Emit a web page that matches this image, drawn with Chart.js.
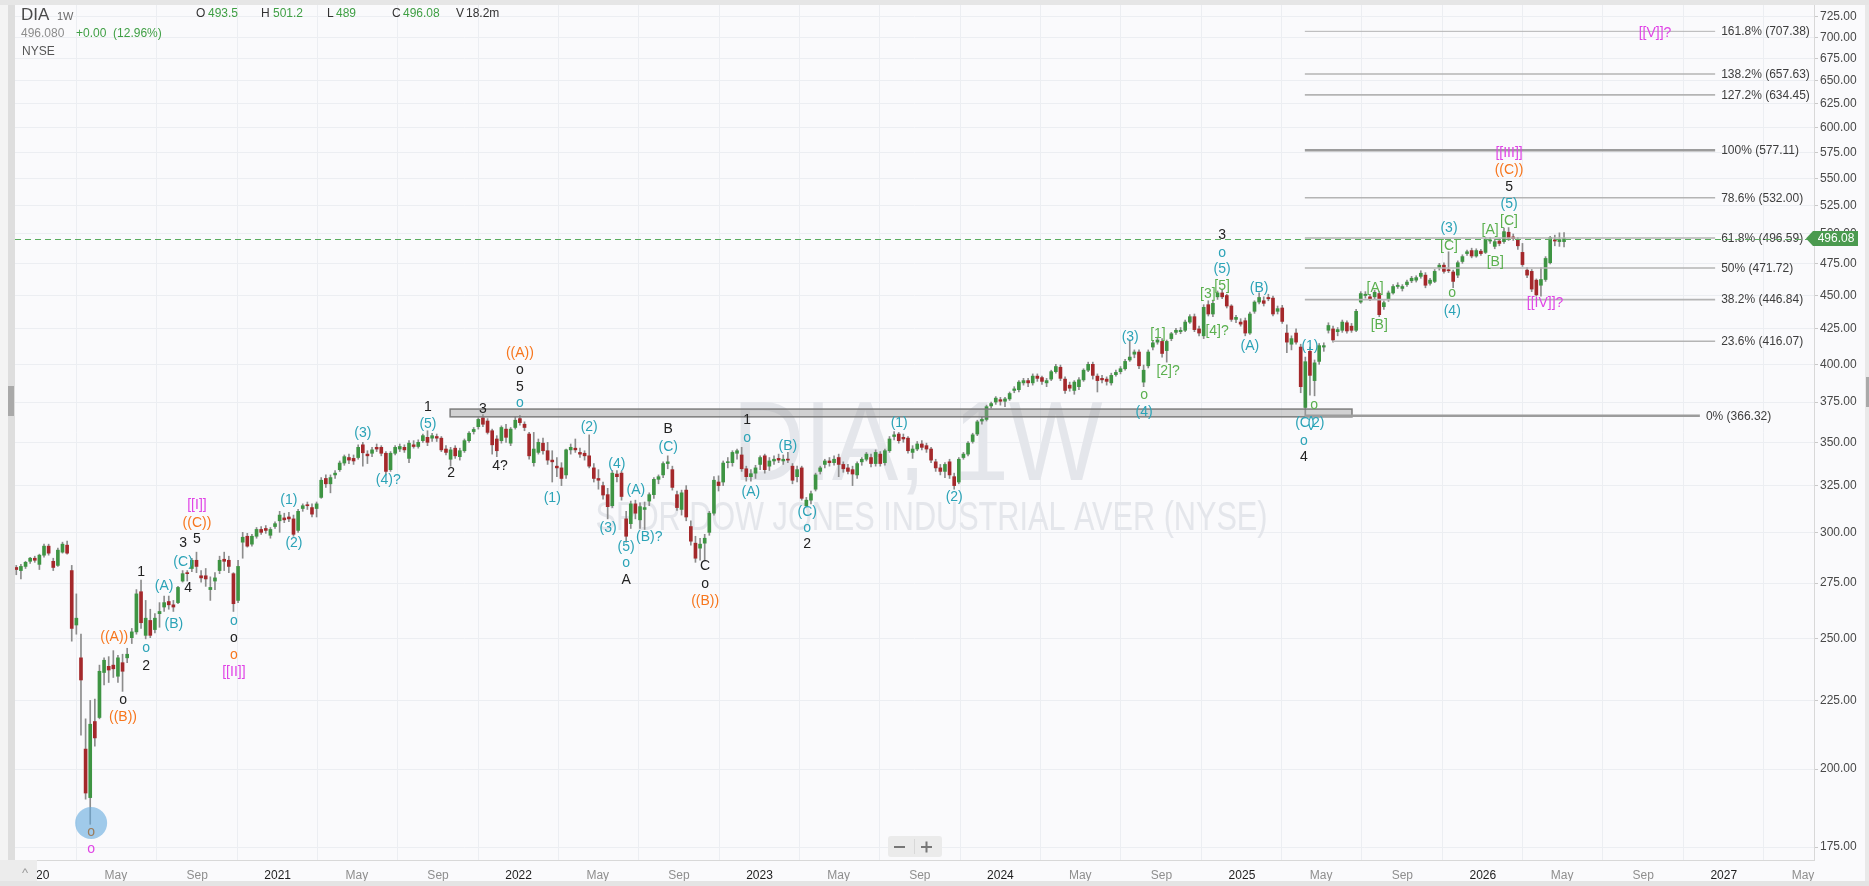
<!DOCTYPE html>
<html>
<head>
<meta charset="utf-8">
<title>DIA 1W</title>
<script src="https://cdn.jsdelivr.net/npm/chart.js"></script>
<style>
  html, body { margin: 0; padding: 0; background: #fafafc; overflow: hidden; }
  #wrap { width: 1869px; height: 886px; }
</style>
</head>
<body>
<div id="wrap"><canvas id="myChart" width="1869" height="886"></canvas></div>
<script>
// weekly bars, bar 0 = week of 2019-12-02
var firstBar = Date.UTC(2019, 11, 2);

var opens = [
  282.5, 281, 283, 285.5, 287, 284, 288.5, 293, 285.5, 283.5,
  290, 293.5, 281, 256, 242, 207, 190.5, 217, 218.5, 236,
  238.5, 239, 234.5, 240, 242, 250.5, 253, 271, 251.5, 258,
  254, 261, 264, 266.5, 265, 266, 276, 280, 282, 286,
  278.5, 278.5, 272, 276, 281, 286.5, 286, 279.5, 267, 295,
  298, 294, 298, 301.5, 302, 298.5, 303, 306, 307.5, 308,
  307, 301, 312.5, 314.5, 313, 312.5, 318.5, 329, 326, 331,
  334, 337.8, 341, 340.5, 341, 348.5, 343, 343.5, 347, 347,
  343.5, 334, 343.5, 346, 347, 340.5, 348.5, 347.5, 351, 353,
  352.5, 353.5, 352.5, 346, 340, 346.5, 341.5, 345, 351, 356.5,
  359.5, 365, 363, 357, 352, 351, 358, 349.5, 359, 364.5,
  361, 355, 338, 344, 349.5, 345, 339.5, 336, 335, 331,
  345.5, 346.5, 344, 343.5, 342, 335, 329, 325, 320, 314,
  331.5, 332, 307, 304.5, 315, 306.5, 312, 316.5, 320, 328.5,
  331, 337.5, 334, 320, 312, 322.5, 303, 294.5, 292, 294.5,
  300, 310, 327, 327, 338, 338, 343.5, 342.5, 334.5, 330,
  332, 337, 342, 336, 339, 340.5, 339, 340, 336, 330,
  335, 314, 317, 323, 333, 337, 339, 338, 341, 337,
  335, 334, 331, 338.5, 340, 341, 337.5, 343, 338, 345,
  353.5, 355, 353, 352.5, 344, 346, 349, 348, 346, 338.5,
  335, 333, 338.5, 330, 327, 341, 343, 350.5, 355, 363,
  364, 372.5, 375, 376.5, 375.5, 377, 382.5, 383, 387.5, 389,
  387.5, 392, 391, 387.5, 390, 395, 398, 390, 386, 382.5,
  385, 389.5, 396, 400, 392, 390.5, 390, 387.5, 393, 395,
  397, 403, 407, 408.5, 388, 399, 412, 415.5, 416, 409.5,
  418, 422.5, 423, 424, 430, 434, 425, 420, 443, 436,
  449, 452, 450, 442, 432, 430, 431, 422, 438, 445,
  446, 448.5, 448, 438, 440.5, 422, 414, 422, 412, 371.5,
  409, 389, 402, 412, 424, 425, 423, 424, 429.5, 427,
  424, 445, 450, 449, 449, 451.5, 441.5, 447, 452, 457,
  455.5, 458.5, 461.5, 462, 465, 466, 459.5, 461, 472, 474,
  470, 468.5, 466, 477, 483.5, 486, 481.5, 485.5, 484.5, 494,
  489.5, 494, 493.5, 501.5, 497.5, 495, 484.5, 470, 469, 462,
  458, 462.5, 476, 495, 493.5, 493.5
];
var highs = [
  283.5, 284, 285.5, 287.5, 288, 289, 294, 294, 287, 292,
  295, 295.5, 283.5, 270, 252, 218, 225, 225.5, 239, 242,
  242.5, 245, 243, 243.5, 246, 254.5, 272, 276.5, 267, 263,
  261, 266, 269, 269, 267, 273.5, 281, 281, 287, 290,
  281, 282, 278, 280, 288, 290, 288, 280, 286, 300,
  299.5, 299, 302.5, 303, 303.5, 302.5, 305.5, 311, 310, 310.5,
  309, 312, 315, 316, 315, 316, 329.5, 331, 331, 333.5,
  339, 342.5, 343, 342.5, 348.5, 350, 345, 347, 349, 348,
  344.5, 344.5, 348, 349, 348.5, 351, 351, 351.5, 355, 357,
  355.5, 355, 353.5, 348, 347, 348, 346.5, 352, 356.5, 359,
  365, 367, 364.5, 358, 354, 360, 361, 359, 365.5, 366.6,
  362.5, 356, 356, 352, 352.5, 350, 345, 341, 338, 346,
  349, 352, 346.5, 345, 354.5, 337.5, 334, 327, 323.5, 333.5,
  333.5, 333, 311, 316.5, 317, 315.5, 316, 321, 329.5, 331,
  338.5, 342, 336, 322, 322.5, 325, 306, 298, 297, 299,
  311, 330, 330.5, 339, 341, 345, 346, 347, 336, 334,
  336.5, 342, 343, 341, 342, 343, 342.5, 344, 337.5, 336,
  336, 318.5, 322, 332, 336, 340, 341, 342, 343, 338.5,
  337, 336, 338.5, 341, 344, 343, 345.5, 344.5, 346, 353.5,
  356.5, 356, 355, 353.5, 348, 350.5, 351, 349.5, 347, 340,
  337, 338, 340, 332, 341, 344, 350.5, 355.5, 363.5, 365.5,
  373, 375, 378.5, 378, 378, 381.5, 385, 389, 390.5, 390.5,
  393.5, 393.5, 392, 390.5, 396, 400, 399.5, 391.5, 388, 389,
  391, 397, 401.5, 401.5, 393.5, 392.5, 391.5, 394, 396, 398.5,
  403.5, 417, 410, 410, 399.5, 410, 416, 419, 418, 417,
  422.5, 425.5, 426, 431.5, 435.5, 436, 427, 443, 446, 446.5,
  453.5, 455, 451, 443, 435, 432.5, 433, 437.5, 446, 452,
  449, 451, 449.5, 442, 442.5, 428, 420, 425, 414, 405,
  412, 403, 414.5, 415, 429.5, 427, 426, 431.5, 431, 429,
  439.5, 453, 453, 451, 454, 453, 446, 453.5, 458.5, 460,
  458.5, 462, 465, 465.5, 469.5, 468, 463.5, 470.5, 475.5, 476,
  485, 470, 477.5, 482.5, 486.5, 488, 487.5, 487, 497, 497,
  495.5, 496, 505, 505.5, 500, 497, 492, 472, 470.5, 463,
  472, 481, 498, 499, 501, 501.2
];
var lows = [
  279, 277, 282, 284.5, 285, 281.5, 287.5, 288.5, 281, 283,
  289.5, 289, 249, 252, 212, 190, 182, 208, 218, 231,
  232, 234, 232, 228.5, 240, 248, 252, 254.5, 250, 250.5,
  252.5, 255, 262, 263, 262, 265.5, 275.5, 276, 280.5, 280,
  275.5, 273.5, 267, 272, 279.5, 281, 280, 262, 266, 287,
  292.5, 293, 297, 299, 299.5, 297, 302, 300, 305, 305.5,
  298, 300, 311, 312, 308, 308, 318, 324, 321, 329,
  333, 336.5, 337.5, 337, 340, 336, 337.5, 341.5, 344.5, 342,
  331, 333, 342.5, 344.5, 344, 338, 346.5, 346.5, 350, 348,
  350.5, 350.5, 344.5, 342.5, 336, 340.5, 339.5, 344, 350, 355,
  358, 359.5, 355, 343, 341.5, 349.5, 350, 348, 358, 360.5,
  357, 340, 336, 343, 343, 337, 327, 330, 325, 329,
  343, 344, 341, 339.5, 335, 327, 323, 317.5, 307, 313,
  327, 317, 295, 302, 307, 302, 301.5, 314, 318, 326,
  329.5, 334.5, 322.5, 311.5, 309, 306, 293.5, 285, 286, 286,
  298.5, 309, 322, 325, 335, 336, 340, 333, 327.5, 327.5,
  329, 334, 332, 333.5, 337, 338, 337, 338, 326, 327,
  317, 313.5, 315, 322, 331.5, 335, 336, 336.5, 330, 332.5,
  331.5, 325, 329, 336.5, 339, 335.5, 336, 336, 336.5, 344,
  351.5, 349.5, 350, 343.5, 340.5, 345, 345.5, 344, 338, 333,
  331, 329.5, 329, 323, 326, 340, 342, 349.5, 354, 361,
  363, 371, 373.5, 373, 372, 376, 381, 381.5, 386, 385,
  386, 388.5, 386.5, 385, 389, 394, 389, 380.5, 382, 380,
  383, 388.5, 395, 390, 381.5, 387.5, 386, 386, 392, 393.5,
  396, 402, 404.5, 397, 385, 397.5, 410, 414, 405, 401.5,
  416.5, 421, 421.5, 423, 429, 423, 420, 418, 434.5, 434,
  447, 447.5, 440.5, 430.5, 429.5, 427, 420, 421, 436.5, 443.5,
  442, 446, 434.5, 436, 429, 408, 410, 414, 381, 366.3,
  379.5, 379, 400, 409, 422, 415.5, 420, 422.5, 422, 422.5,
  423, 444, 448, 446, 447.5, 434, 439.5, 445.5, 451, 455.5,
  453.5, 457, 460, 460.5, 463.5, 456, 458, 460, 470, 467.5,
  468, 456, 464, 475.5, 482, 480, 480.5, 482, 483.5, 492,
  487.5, 490, 492, 494.5, 494.5, 487, 473, 464, 453, 449.5,
  449.5, 461, 475, 490, 489.5, 489
];
var closes = [
  281.5, 283, 285, 287, 286, 288.5, 293, 289.5, 282.5, 291,
  294, 289.5, 254.5, 259, 233, 192, 216, 211, 236.5, 241,
  237, 237.5, 242, 236.5, 243.5, 253, 270, 257, 259, 251.5,
  259, 262, 266, 265, 264, 273, 279.5, 279.5, 286, 283,
  277.5, 277, 273, 277.5, 286, 285.5, 283, 265.5, 283, 297.5,
  293, 298, 301.5, 300, 301, 301.5, 304.5, 309, 306.5, 307,
  299, 311, 314, 314, 309.5, 315, 328, 326, 329.5, 332,
  337.8, 341.5, 339.5, 339, 347, 343.8, 342, 345.5, 346, 343.5,
  333, 343.5, 347, 347.5, 345.5, 349.5, 347.5, 350, 354, 350,
  354, 352.5, 345.5, 344, 345.5, 342, 345, 351, 355.5, 357.8,
  364, 361, 356, 348.5, 345, 359, 353, 358, 363.5, 362,
  359, 342, 346, 350, 345, 339.5, 338.5, 335, 329, 345.5,
  347, 345.5, 343, 342, 336, 329, 328, 319.8, 313.5, 332,
  330, 319, 298, 315, 310, 313.5, 313, 320, 328.5, 330,
  337.5, 338.5, 324, 313, 321, 308, 295.5, 287, 294, 297,
  310, 328, 325, 337.8, 338.5, 344, 345, 334.5, 330, 331.7,
  335, 341, 334, 339, 340, 339.5, 340, 339.5, 328, 334,
  318, 317, 320.5, 331, 335, 339, 338, 340, 337, 334.5,
  333, 331.5, 337.5, 340, 343, 337.5, 344, 337.5, 345, 352,
  354.5, 351, 352, 345, 346, 349, 347, 346, 339.5, 335,
  333, 337, 331, 325, 340, 343, 349.5, 354.5, 362.5, 364,
  372, 374, 377.5, 375.5, 377, 380.5, 383.5, 388, 389, 387.5,
  392, 390.5, 388.5, 389, 395, 398.5, 390.5, 382.5, 384, 388,
  389.5, 396, 400, 392.5, 389, 389.5, 388.5, 392.5, 394.5, 397,
  402, 405, 408.5, 399, 396, 408.5, 415, 417, 407.5, 416,
  421.5, 424, 424, 430, 434, 424.5, 422, 441, 436, 444,
  452, 449, 442, 432, 433.5, 428.5, 422, 436, 445, 448.5,
  444, 447.5, 436, 440, 430.5, 415.5, 418, 415.5, 385, 401.8,
  392.5, 401, 413, 413, 427.5, 417, 424.5, 430, 423.5, 424,
  438, 451.5, 451, 447.5, 452.5, 435.5, 444.5, 452, 457, 458,
  457, 460.5, 463.5, 464, 467.5, 458, 462, 469, 474, 469,
  469.5, 461, 476, 481, 485, 481.5, 486, 483.5, 495.5, 495,
  493.5, 492, 502, 496.5, 496, 490, 474.5, 466, 455, 450.5,
  462.5, 479.5, 497, 494, 495.5, 496.08
];

var lastPrice = 496.08;

var yTicks = [175, 200, 225, 250, 275, 300, 325, 350, 375, 400, 425, 450, 475, 500,
  525, 550, 575, 600, 625, 650, 675, 700, 725];

var xTickDates = ['2020-01-01', '2020-05-01', '2020-09-01', '2021-01-01', '2021-05-01', '2021-09-01',
  '2022-01-01', '2022-05-01', '2022-09-01', '2023-01-01', '2023-05-01', '2023-09-01',
  '2024-01-01', '2024-05-01', '2024-09-01', '2025-01-01', '2025-05-01', '2025-09-01',
  '2026-01-01', '2026-05-01', '2026-09-01', '2027-01-01', '2027-05-01'];
var xTickLabels = ['2020', 'May', 'Sep', '2021', 'May', 'Sep', '2022', 'May', 'Sep',
  '2023', 'May', 'Sep', '2024', 'May', 'Sep', '2025', 'May', 'Sep',
  '2026', 'May', 'Sep', '2027', 'May'];

// fibonacci levels drawn from the 2025 low
var fibNames = ['161.8%', '138.2%', '127.2%', '100%', '78.6%', '61.8%', '50%', '38.2%', '23.6%', '0%'];
var fibPrices = [707.38, 657.63, 634.45, 577.11, 532.00, 496.59, 471.72, 446.84, 416.07, 366.32];

// grey resistance box: [fromBar, toBar, lowPrice, highPrice]
var zoneBox = [93.9, 289.1, 365.6, 370.5];

// wave labels: [bar, price, text, colour key]
var waveLabels = [
  [39.1, 314.4, '[[I]]', 'm'], [39.1, 304.8, '((C))', 'o'], [39.1, 296.6, '5', 'k'],
  [36.1, 294.6, '3', 'k'], [36.1, 285.1, '(C)', 't'], [37.2, 272.8, '4', 'k'],
  [27.0, 280.3, '1', 'k'], [32.0, 273.7, '(A)', 't'], [34.1, 256.4, '(B)', 't'],
  [21.2, 250.8, '((A))', 'o'], [28.1, 246.1, 'o', 't'], [28.1, 238.6, '2', 'k'],
  [23.1, 225.1, 'o', 'k'], [23.1, 218.7, '((B))', 'o'],
  [47.1, 257.7, 'o', 't'], [47.1, 250.3, 'o', 'k'], [47.1, 243.2, 'o', 'o'], [47.1, 236.2, '[[II]]', 'm'],
  [16.2, 179.6, 'o', 'b'], [16.2, 174.5, 'o', 'm'],
  [59.0, 317.1, '(1)', 't'], [60.1, 294.6, '(2)', 't'], [75.0, 355.6, '(3)', 't'], [80.5, 328.1, '(4)?', 't'],
  [89.1, 371.8, '1', 'k'], [89.1, 361.1, '(5)', 't'], [101.0, 370.5, '3', 'k'],
  [94.1, 332.1, '2', 'k'], [104.7, 336.1, '4?', 'k'],
  [109.0, 407.8, '((A))', 'o'], [109.0, 396.1, 'o', 'k'], [109.0, 384.7, '5', 'k'], [109.0, 374.4, 'o', 't'],
  [124.0, 359.2, '(2)', 't'], [116.0, 318.2, '(1)', 't'], [130.0, 337.2, '(4)', 't'],
  [128.1, 302.3, '(3)', 't'], [132.0, 292.6, '(5)', 't'], [132.0, 284.6, 'o', 't'], [132.0, 276.5, 'A', 'k'],
  [134.1, 322.6, '(A)', 't'], [137.0, 297.6, '(B)?', 't'],
  [141.1, 358.0, 'B', 'k'], [141.1, 347.2, '(C)', 't'],
  [149.1, 283.2, 'C', 'k'], [149.1, 274.6, 'o', 'k'], [149.1, 266.7, '((B))', 'o'],
  [158.2, 363.6, '1', 'k'], [158.2, 352.6, 'o', 't'], [159.0, 321.4, '(A)', 't'], [167.0, 347.8, '(B)', 't'],
  [171.2, 310.6, '(C)', 't'], [171.2, 302.3, 'o', 't'], [171.2, 294.1, '2', 'k'],
  [191.1, 361.8, '(1)', 't'], [203.0, 318.7, '(2)', 't'],
  [241.1, 419.2, '(3)', 't'], [244.1, 379.5, 'o', 'g'], [244.1, 368.6, '(4)', 't'],
  [247.1, 421.3, '[1]', 'g'], [249.3, 395.4, '[2]?', 'g'],
  [261.0, 499.2, '3', 'k'], [261.0, 484.0, 'o', 't'], [261.0, 470.9, '(5)', 't'], [261.0, 457.4, '[5]', 'g'],
  [257.9, 451.2, '[3]', 'g'], [259.9, 423.5, '[4]?', 'g'],
  [269.0, 455.9, '(B)', 't'], [267.0, 412.7, '(A)', 't'],
  [280.0, 412.7, '(1)', 't'], [280.9, 373.1, 'o', 'g'], [278.9, 361.8, '(C)', 't'], [281.3, 361.8, '(2)', 't'],
  [278.7, 350.8, 'o', 't'], [278.7, 341.3, '4', 'k'],
  [294.1, 455.9, '[A]', 'g'], [295.0, 427.9, '[B]', 'g'],
  [310.1, 505.2, '(3)', 't'], [310.1, 489.9, '[C]', 'g'], [310.8, 452.0, 'o', 'g'], [310.8, 438.3, '(4)', 't'],
  [319.0, 503.5, '[A]', 'g'], [320.1, 476.6, '[B]', 'g'], [323.1, 511.3, '[C]', 'g'],
  [323.1, 526.4, '(5)', 't'], [323.1, 541.9, '5', 'k'], [323.1, 557.9, '((C))', 'o'], [323.1, 574.3, '[[III]]', 'm'],
  [330.9, 444.3, '[[IV]]?', 'm'], [354.7, 705.4, '[[V]]?', 'm']
];
var circleMark = [16.2, 182.4];

var ff = "'Liberation Sans', Arial, sans-serif";
var upColor = '#3e9443';
var downColor = '#a4282b';
var labelColors = { t: '#2ba3b7', k: '#222222', o: '#f7761d', m: '#e044e6', g: '#5bb04f', b: '#9b7b5b' };

function weekOf(dateStr) {
  var p = dateStr.split('-');
  return (Date.UTC(+p[0], +p[1] - 1, +p[2]) - firstBar) / (7 * 86400000);
}
var xTickPos = xTickDates.map(weekOf);

var wickData = [], bodyData = [], bodyColors = [];
for (var i = 0; i < closes.length; i++) {
  wickData.push({ x: i, y: [lows[i], highs[i]] });
  bodyData.push({ x: i, y: [Math.min(opens[i], closes[i]), Math.max(opens[i], closes[i])] });
  bodyColors.push(closes[i] >= opens[i] ? upColor : downColor);
}

var overlay = {
  id: 'overlay',
  beforeDraw: function (chart) {
    var ctx = chart.ctx;
    ctx.save();
    ctx.fillStyle = '#fafafc';
    ctx.fillRect(0, 0, chart.width, chart.height);
    ctx.restore();
  },
  beforeDatasetsDraw: function (chart) {
    var ctx = chart.ctx, a = chart.chartArea;
    var cx = (a.left + a.right) / 2;
    ctx.save();
    ctx.fillStyle = '#e4e6eb';
    ctx.textAlign = 'center';
    ctx.textBaseline = 'alphabetic';
    ctx.font = '114px ' + ff;
    ctx.fillText('DIA, 1W', cx + 3, 480, 370);
    ctx.font = '40px ' + ff;
    ctx.fillText('SPDR DOW JONES INDUSTRIAL AVER (NYSE)', cx + 17, 530, 672);
    ctx.restore();
  },
  afterDatasetsDraw: function (chart) {
    var ctx = chart.ctx, xs = chart.scales.x, ys = chart.scales.y, a = chart.chartArea;
    ctx.save();

    // box
    var bx1 = xs.getPixelForValue(zoneBox[0]), bx2 = xs.getPixelForValue(zoneBox[1]);
    var by1 = ys.getPixelForValue(zoneBox[3]), by2 = ys.getPixelForValue(zoneBox[2]);
    ctx.fillStyle = 'rgba(160,160,160,0.45)';
    ctx.fillRect(bx1, by1, bx2 - bx1, by2 - by1);
    ctx.strokeStyle = '#7c7c7c';
    ctx.lineWidth = 1.5;
    ctx.strokeRect(bx1, by1, bx2 - bx1, by2 - by1);

    // fib levels
    ctx.font = '12px ' + ff;
    ctx.textBaseline = 'middle';
    ctx.textAlign = 'left';
    for (var f = 0; f < fibPrices.length; f++) {
      var fy = ys.getPixelForValue(fibPrices[f]);
      var last = f === fibPrices.length - 1;
      var fx1 = xs.getPixelForValue(fibNames[f] === '23.6%' ? 285 : 278.9);
      var fx2 = xs.getPixelForValue(last ? 364.4 : 367.7);
      ctx.strokeStyle = (fibNames[f] === '100%' || last) ? '#9c9c9c' : '#b4b4b4';
      ctx.lineWidth = (fibNames[f] === '100%' || last) ? 2.5 : (f === 0 ? 1 : 1.6);
      ctx.beginPath();
      ctx.moveTo(fx1, fy);
      ctx.lineTo(fx2, fy);
      ctx.stroke();
      ctx.fillStyle = '#3d3d3d';
      ctx.fillText(fibNames[f] + ' (' + fibPrices[f].toFixed(2) + ')', fx2 + 6, fy + 0.5);
    }

    // last price line
    var ly = Math.round(ys.getPixelForValue(lastPrice)) + 0.5;
    ctx.strokeStyle = '#5aad5e';
    ctx.lineWidth = 1;
    ctx.setLineDash([6, 4]);
    ctx.beginPath();
    ctx.moveTo(a.left, ly);
    ctx.lineTo(a.right, ly);
    ctx.stroke();
    ctx.setLineDash([]);

    // circle at the 2020 low
    ctx.fillStyle = 'rgba(100,170,222,0.6)';
    ctx.beginPath();
    ctx.arc(xs.getPixelForValue(circleMark[0]), ys.getPixelForValue(circleMark[1]), 16, 0, Math.PI * 2);
    ctx.fill();

    // wave labels
    ctx.font = '14px ' + ff;
    ctx.textAlign = 'center';
    ctx.textBaseline = 'middle';
    waveLabels.forEach(function (l) {
      ctx.fillStyle = labelColors[l[3]];
      ctx.fillText(l[2], xs.getPixelForValue(l[0]), ys.getPixelForValue(l[1]));
    });
    ctx.restore();
  },
  afterDraw: function (chart) {
    var ctx = chart.ctx, ys = chart.scales.y;
    ctx.save();

    // price tag on the axis
    var ty = ys.getPixelForValue(lastPrice);
    ctx.fillStyle = '#4b9a4f';
    ctx.beginPath();
    ctx.moveTo(1806, ty);
    ctx.lineTo(1813, ty - 7.5);
    ctx.lineTo(1858, ty - 7.5);
    ctx.lineTo(1858, ty + 7.5);
    ctx.lineTo(1813, ty + 7.5);
    ctx.closePath();
    ctx.fill();
    ctx.fillStyle = '#ffffff';
    ctx.font = '12px ' + ff;
    ctx.textAlign = 'center';
    ctx.textBaseline = 'middle';
    ctx.fillText(lastPrice.toFixed(2), 1836, ty + 0.5);

    // window chrome
    ctx.fillStyle = '#e6e6e6';
    ctx.fillRect(0, 0, 1869, 5);
    ctx.fillStyle = '#f4f4f4';
    ctx.fillRect(0, 5, 8, 855);
    ctx.fillStyle = '#dedede';
    ctx.fillRect(8, 5, 7, 855);
    ctx.fillStyle = '#a9a9a9';
    ctx.fillRect(8, 386, 6, 30);
    ctx.fillStyle = '#ececec';
    ctx.fillRect(0, 860, 37, 21);
    ctx.fillStyle = '#e4e4e4';
    ctx.fillRect(0, 881, 1869, 5);
    ctx.fillStyle = '#e9e9e9';
    ctx.fillRect(1865, 5, 4, 876);
    ctx.fillStyle = '#a9a9a9';
    ctx.fillRect(1866, 377, 3, 30);
    ctx.fillStyle = '#9a9a9a';
    ctx.font = '13px ' + ff;
    ctx.fillText('^', 25, 873);

    // zoom buttons
    ctx.fillStyle = '#ebebeb';
    ctx.beginPath();
    ctx.roundRect(888, 836, 54, 21, 3);
    ctx.fill();
    ctx.fillStyle = '#777';
    ctx.fillRect(894, 846, 11, 2);
    ctx.fillRect(921, 846, 11, 2);
    ctx.fillRect(925.5, 841.5, 2, 11);
    ctx.fillStyle = '#d8d8d8';
    ctx.fillRect(914, 839, 1, 15);

    // header
    ctx.textAlign = 'left';
    ctx.textBaseline = 'alphabetic';
    ctx.fillStyle = '#4a4a4a';
    ctx.font = '17px ' + ff;
    ctx.fillText('DIA', 21, 20);
    ctx.fillStyle = '#6a6a6a';
    ctx.font = '11px ' + ff;
    ctx.fillText('1W', 57, 20);
    ctx.font = '12px ' + ff;
    var ohlc = [['O', '493.5', 196, 208], ['H', '501.2', 261, 273], ['L', '489', 327, 336], ['C', '496.08', 392, 403]];
    ohlc.forEach(function (o) {
      ctx.fillStyle = '#333';
      ctx.fillText(o[0], o[2], 17);
      ctx.fillStyle = '#3f9f44';
      ctx.fillText(o[1], o[3], 17);
    });
    ctx.fillStyle = '#333';
    ctx.fillText('V', 456, 17);
    ctx.fillText('18.2m', 466, 17);
    ctx.fillStyle = '#8c8c8c';
    ctx.fillText('496.080', 21, 37);
    ctx.fillStyle = '#3f9f44';
    ctx.fillText('+0.00  (12.96%)', 76, 37);
    ctx.fillStyle = '#555';
    ctx.fillText('NYSE', 22, 55);
    ctx.restore();
  }
};

Chart.defaults.font.family = ff;

new Chart("myChart", {
  type: "bar",
  data: {
    datasets: [
      { data: wickData, backgroundColor: '#8c8c8c', barThickness: 1, grouped: false, order: 2 },
      { data: bodyData, backgroundColor: bodyColors, barThickness: 3, grouped: false, minBarLength: 1, order: 1 }
    ]
  },
  options: {
    responsive: false,
    animation: false,
    devicePixelRatio: 1,
    layout: { padding: { left: 15, top: 5, right: 0, bottom: 0 } },
    plugins: { legend: { display: false }, tooltip: { enabled: false } },
    scales: {
      x: {
        type: 'linear',
        min: -0.28,
        max: 389.1,
        offset: false,
        bounds: 'data',
        grid: { color: '#eceef2', drawTicks: false },
        border: { color: '#d8d8d8' },
        ticks: {
          autoSkip: false,
          maxRotation: 0,
          minRotation: 0,
          padding: 8,
          font: { size: 12 },
          color: function (c) { return /^\d/.test(xTickLabels[c.index] || '') ? '#1d1d1d' : '#8e8e8e'; },
          callback: function (v, idx) { return xTickLabels[idx]; }
        },
        afterBuildTicks: function (scale) {
          scale.ticks = xTickPos.map(function (v) { return { value: v }; });
        },
        afterFit: function (scale) {
          scale.height = 26;
          scale.paddingLeft = 0;
          scale.paddingRight = 0;
        }
      },
      y: {
        type: 'logarithmic',
        position: 'right',
        min: 171.2,
        max: 740,
        bounds: 'data',
        grid: { color: '#eceef2', tickLength: 4, tickColor: '#c9c9c9' },
        border: { color: '#d8d8d8' },
        ticks: {
          padding: 2,
          font: { size: 12 },
          color: '#484848',
          callback: function (v) { return Number(v).toFixed(2); }
        },
        afterBuildTicks: function (scale) {
          scale.ticks = yTicks.map(function (v) { return { value: v }; });
        },
        afterFit: function (scale) {
          scale.width = 55;
          scale.paddingTop = 0;
          scale.paddingBottom = 0;
        }
      }
    }
  },
  plugins: [overlay]
});
</script>
</body>
</html>
